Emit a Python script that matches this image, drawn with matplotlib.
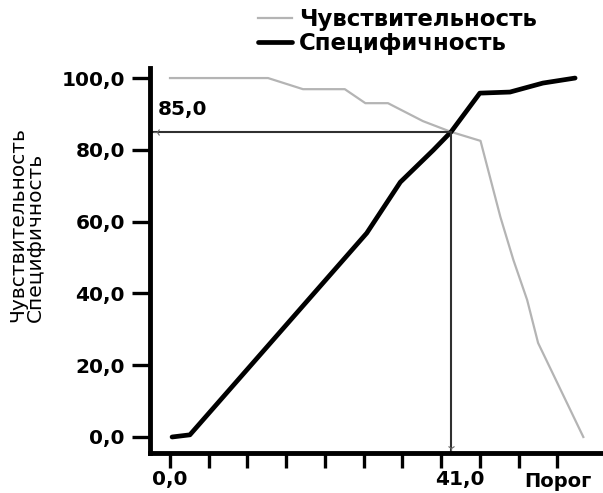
import numpy as np
import matplotlib
matplotlib.use("Agg")
import matplotlib.pyplot as plt
from matplotlib.transforms import ScaledTranslation

# sensitivity / specificity against the threshold
sens_x = [0, 14.3, 19.4, 25.5, 28.5, 31.8, 36.9, 41.0, 45.3, 48.2, 50.1, 52.1, 53.7, 60.3]
sens_y = [100, 100, 96.9, 96.9, 93.0, 93.0, 88.0, 85.0, 82.5, 61.3, 49.3, 38.2, 26.2, 0]

spec_x = [0.3, 2.9, 28.7, 33.6, 38.4, 41.0, 45.2, 49.6, 54.4, 59.1]
spec_y = [0, 0.6, 56.8, 71.0, 79.9, 85.0, 95.8, 96.1, 98.6, 100]

cutoff_x = 41.0
cutoff_y = 85.0

y_ticks = [0, 20, 40, 60, 80, 100]
x_ticks = np.arange(11) * 5.65
x_labeled = [0.0, cutoff_x]
x_label_shift = [0, 9]  # px


def fmt(v):
    return f"{v:.1f}".replace(".", ",")


fig = plt.figure(figsize=(6.03, 4.93), dpi=100)
ax = fig.add_axes([150 / 603, 40 / 493, 453 / 603, 385 / 493])

sens_line, = ax.plot(sens_x, sens_y, color="#b4b4b4", lw=1.6, solid_joinstyle="round")
spec_line, = ax.plot(spec_x, spec_y, color="black", lw=3.4, solid_joinstyle="round",
                     solid_capstyle="round")

ax.set_xlim(-2.92, 63.17)
ax.set_ylim(-4.46, 102.8)
x0, x1 = ax.get_xlim()
y0, y1 = ax.get_ylim()

# cut-off guide lines
ax.plot([x0, cutoff_x], [cutoff_y, cutoff_y], color="#303030", lw=1.5)
ax.plot([cutoff_x, cutoff_x], [cutoff_y, y0], color="#303030", lw=1.5)
ax.plot(cutoff_x, y0 + 1.5, marker="1", ms=6, color="#666666", mew=0.8)
ax.plot(x0 + 1.0, cutoff_y, marker="3", ms=6, color="#666666", mew=0.8)
ax.text(x0 + 1.2, cutoff_y + 3.5, fmt(cutoff_y), fontsize=14.5,
        fontweight="bold", ha="left", va="bottom")

for side in ["top", "right"]:
    ax.spines[side].set_visible(False)
ax.spines["left"].set_linewidth(3.5)
ax.spines["bottom"].set_linewidth(3.5)

ax.set_yticks(y_ticks)
ax.set_yticklabels([fmt(v) for v in y_ticks], fontsize=14.5, fontweight="bold")
ax.tick_params(axis="y", length=13, width=2.4, pad=5)

ax.set_xticks(x_ticks)
ax.set_xticklabels([])
ax.tick_params(axis="x", length=11, width=2.4)

for v, dx in zip(x_labeled, x_label_shift):
    tr = ax.get_xaxis_transform() + ScaledTranslation(dx / 100, -27 / 100,
                                                      fig.dpi_scale_trans)
    ax.text(v, 0, fmt(v), transform=tr, fontsize=14.5, fontweight="bold",
            ha="center", va="center")

fig.text(524 / 603, 6 / 493, "Порог", fontsize=14, fontweight="bold",
         ha="left", va="baseline")
fig.text(27 / 603, (493 - 225) / 493, "Чувствительность\nСпецифичность",
         rotation=90, fontsize=14.5, ha="center", va="center",
         multialignment="left", linespacing=0.9)

fig.legend([sens_line, spec_line], ["Чувствительность", "Специфичность"],
           loc="upper left", bbox_to_anchor=(242 / 603, 1 + 8 / 493),
           frameon=False, prop={"size": 16.5, "weight": "bold"},
           handlelength=1.5, handletextpad=0.3, labelspacing=0.05,
           borderpad=0.2)

fig.savefig("out.png", dpi=100)
